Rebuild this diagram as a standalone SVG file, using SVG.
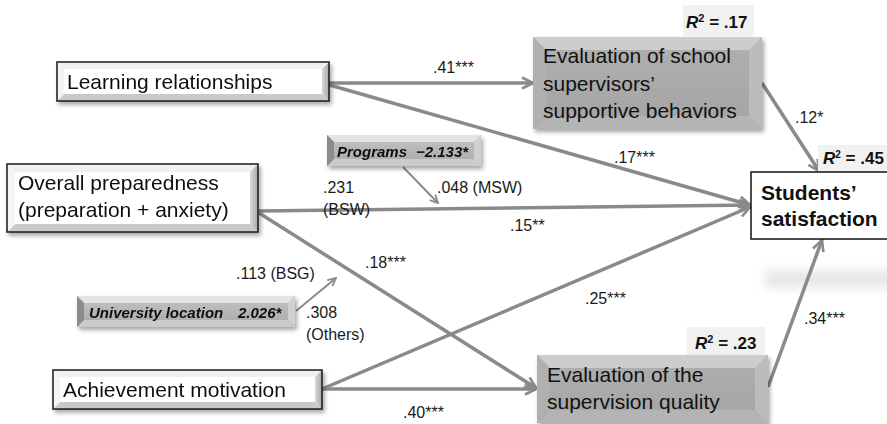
<svg xmlns="http://www.w3.org/2000/svg" width="887" height="424" viewBox="0 0 887 424">
<style>
.lbl{font-family:"Liberation Sans",Arial,sans-serif;font-size:16px;fill:#1a1a1a}
.nt{font-family:"Liberation Sans",Arial,sans-serif;font-size:21px;fill:#111}
.mod{font-family:"Liberation Sans",Arial,sans-serif;font-size:15px;font-weight:bold;font-style:italic;fill:#111}
.r2{font-family:"Liberation Sans",Arial,sans-serif;font-size:17px;font-weight:bold;fill:#111}
.edge{fill:none;stroke:#8a8a8a;stroke-width:3.5;marker-end:url(#ah)}
.thin{fill:none;stroke:#8a8a8a;stroke-width:2;marker-end:url(#ahs)}
.wb-t{fill:#f0f0f0}.wb-l{fill:#f4f4f4}.wb-r{fill:url(#gr)}.wb-b{fill:#c9c9c9}
.gb-c{fill:url(#gc)}.gb-t{fill:#cdcdcd}.gb-l{fill:#b0b0b0}.gb-r{fill:#bcbcbc}.gb-b{fill:#b4b4b4}
.mb-c{fill:url(#mc)}.mb-t{fill:#e4e4e4}.mb-l{fill:#8c8c8c}.mb-r{fill:#d0d0d0}.mb-b{fill:#cbcbcb}
.r2box{fill:#f1f1f1}
</style>
<defs>
<marker id="ah" viewBox="0 0 14 14" refX="12.5" refY="7" markerWidth="14" markerHeight="14" markerUnits="userSpaceOnUse" orient="auto">
<path d="M1.5,1.5 L12.5,7 L1.5,12.5" fill="none" stroke="#8a8a8a" stroke-width="2.6"/>
</marker>
<marker id="ahs" viewBox="0 0 10 10" refX="9" refY="5" markerWidth="10" markerHeight="10" markerUnits="userSpaceOnUse" orient="auto">
<path d="M1,1 L9,5 L1,9" fill="none" stroke="#8a8a8a" stroke-width="1.8"/>
</marker>
<linearGradient id="gr" x1="0" y1="0" x2="1" y2="0"><stop offset="0" stop-color="#d8d8d8"/><stop offset="1" stop-color="#a8a8a8"/></linearGradient>
<linearGradient id="gc" x1="0" y1="0" x2="0" y2="1"><stop offset="0" stop-color="#b0b0b0"/><stop offset="1" stop-color="#a4a4a4"/></linearGradient>
<linearGradient id="mc" x1="0" y1="0" x2="0" y2="1"><stop offset="0" stop-color="#c4c4c4"/><stop offset="1" stop-color="#a9a9a9"/></linearGradient>
<filter id="sh" x="-10%" y="-20%" width="120%" height="150%"><feDropShadow dx="2" dy="3" stdDeviation="2" flood-color="#000" flood-opacity="0.35"/></filter>
<filter id="blur" x="-20%" y="-100%" width="140%" height="300%"><feGaussianBlur stdDeviation="5"/></filter>
</defs>

<rect x="765" y="270" width="140" height="18" fill="#d4d4d4" opacity="0.55" filter="url(#blur)"/>

<g id="connectors">
<path class="edge" d="M326,83 L533,83"/>
<path class="edge" d="M326,84 L750,205"/>
<path class="edge" d="M259,211 L750,205"/>
<path class="edge" d="M259,213 L536,388"/>
<path class="edge" d="M322,389 L750,207"/>
<path class="edge" d="M322,389 L536,389"/>
<path class="edge" d="M762,83 L819,171"/>
<path class="edge" d="M768,387 L822,240"/>
<path class="thin" d="M403,167 L438,203"/>
<path class="thin" d="M296,311 L336,278"/>
</g>

<g id="edge-labels">
<text class="lbl" x="433" y="73">.41***</text>
<text class="lbl" x="614" y="163">.17***</text>
<text class="lbl" x="795" y="123">.12*</text>
<text class="lbl" x="323" y="193">.231</text>
<text class="lbl" x="323" y="215">(BSW)</text>
<text class="lbl" x="437" y="193">.048 (MSW)</text>
<text class="lbl" x="510" y="231">.15**</text>
<text class="lbl" x="365" y="268">.18***</text>
<text class="lbl" x="236" y="279">.113 (BSG)</text>
<text class="lbl" x="306" y="318">.308</text>
<text class="lbl" x="306" y="340">(Others)</text>
<text class="lbl" x="585" y="304">.25***</text>
<text class="lbl" x="804" y="324">.34***</text>
<text class="lbl" x="403" y="418">.40***</text>
</g>

<g id="learning-relationships" filter="url(#sh)">
<rect x="57" y="62" width="272" height="39" fill="#fff"/>
<polygon class="wb-t" points="57,62 329,62 322,69 64,69"/>
<polygon class="wb-b" points="57,101 329,101 322,94 64,94"/>
<polygon class="wb-l" points="57,62 64,69 64,94 57,101"/>
<polygon class="wb-r" points="329,62 322,69 322,94 329,101"/>
<rect x="57" y="62" width="272" height="39" fill="none" stroke="#1a1a1a" stroke-width="1.5"/>
<text class="nt" x="67" y="89">Learning relationships</text>
</g>

<g id="overall-preparedness" filter="url(#sh)">
<rect x="7" y="164" width="251" height="68" fill="#fff"/>
<polygon class="wb-t" points="7,164 258,164 250,172 15,172"/>
<polygon class="wb-b" points="7,232 258,232 250,224 15,224"/>
<polygon class="wb-l" points="7,164 15,172 15,224 7,232"/>
<polygon class="wb-r" points="258,164 250,172 250,224 258,232"/>
<rect x="7" y="164" width="251" height="68" fill="none" stroke="#1a1a1a" stroke-width="1.5"/>
<text class="nt" x="18" y="190">Overall preparedness</text>
<text class="nt" x="18" y="217">(preparation + anxiety)</text>
</g>

<g id="achievement-motivation" filter="url(#sh)">
<rect x="53" y="370" width="269" height="39" fill="#fff"/>
<polygon class="wb-t" points="53,370 322,370 315,377 60,377"/>
<polygon class="wb-b" points="53,409 322,409 315,402 60,402"/>
<polygon class="wb-l" points="53,370 60,377 60,402 53,409"/>
<polygon class="wb-r" points="322,370 315,377 315,402 322,409"/>
<rect x="53" y="370" width="269" height="39" fill="none" stroke="#1a1a1a" stroke-width="1.5"/>
<text class="nt" x="63" y="397">Achievement motivation</text>
</g>

<g id="programs" filter="url(#sh)">
<rect class="mb-c" x="327" y="135" width="154" height="31"/>
<polygon class="mb-t" points="327,135 481,135 474,142 334,142"/>
<polygon class="mb-b" points="327,166 481,166 474,159 334,159"/>
<polygon class="mb-l" points="327,135 334,142 334,159 327,166"/>
<polygon class="mb-r" points="481,135 474,142 474,159 481,166"/>
<text class="mod" x="337" y="157">Programs</text>
<text class="mod" x="416" y="157">−2.133*</text>
</g>

<g id="university-location" filter="url(#sh)">
<rect class="mb-c" x="77" y="296" width="218" height="31"/>
<polygon class="mb-t" points="77,296 295,296 288,303 84,303"/>
<polygon class="mb-b" points="77,327 295,327 288,320 84,320"/>
<polygon class="mb-l" points="77,296 84,303 84,320 77,327"/>
<polygon class="mb-r" points="295,296 288,303 288,320 295,327"/>
<text class="mod" x="89" y="318">University location</text>
<text class="mod" x="238" y="318">2.026*</text>
</g>

<g id="eval-school-supervisors">
<rect class="r2box" x="683" y="5" width="71" height="31"/>
<text class="r2" x="686" y="28"><tspan font-style="italic">R</tspan><tspan dy="-6" font-size="11">2</tspan><tspan dy="6"> = .17</tspan></text>
<g filter="url(#sh)">
<rect class="gb-c" x="533" y="37" width="229" height="92"/>
<polygon class="gb-t" points="533,37 762,37 749,50 546,50"/>
<polygon class="gb-b" points="533,129 762,129 749,116 546,116"/>
<polygon class="gb-l" points="533,37 546,50 546,116 533,129"/>
<polygon class="gb-r" points="762,37 749,50 749,116 762,129"/>
</g>
<text class="nt" x="543" y="63">Evaluation of school</text>
<text class="nt" x="543" y="91">supervisors’</text>
<text class="nt" x="543" y="118">supportive behaviors</text>
</g>

<g id="eval-supervision-quality">
<rect class="r2box" x="687" y="327" width="78" height="30"/>
<text class="r2" x="695" y="349"><tspan font-style="italic">R</tspan><tspan dy="-6" font-size="11">2</tspan><tspan dy="6"> = .23</tspan></text>
<g filter="url(#sh)">
<rect class="gb-c" x="537" y="355" width="231" height="68"/>
<polygon class="gb-t" points="537,355 768,355 755,368 550,368"/>
<polygon class="gb-b" points="537,423 768,423 755,410 550,410"/>
<polygon class="gb-l" points="537,355 550,368 550,410 537,423"/>
<polygon class="gb-r" points="768,355 755,368 755,410 768,423"/>
</g>
<text class="nt" x="547" y="382">Evaluation of the</text>
<text class="nt" x="547" y="409">supervision quality</text>
</g>

<g id="students-satisfaction">
<rect class="r2box" x="818" y="145" width="75" height="27"/>
<text class="r2" x="823" y="164" font-size="16"><tspan font-style="italic">R</tspan><tspan dy="-6" font-size="10">2</tspan><tspan dy="6"> = .45</tspan></text>
<rect x="751" y="172" width="145" height="67" fill="#fff" stroke="#111" stroke-width="1.5"/>
<text class="nt" x="761" y="200" font-weight="bold" font-size="20">Students’</text>
<text class="nt" x="761" y="226" font-weight="bold" font-size="20">satisfaction</text>
</g>
</svg>
